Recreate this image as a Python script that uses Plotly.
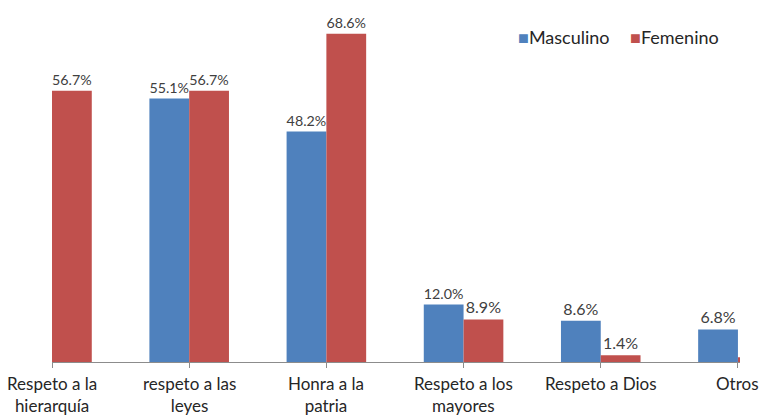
import plotly.graph_objects as go

categories = ["Respeto a la<br>hierarquía", "respeto a las<br>leyes", "Honra a la<br>patria",
              "Respeto a los<br>mayores", "Respeto a Dios", "Otros"]
masculino = [None, 55.1, 48.2, 12.0, 8.6, 6.8]
femenino = [56.7, 56.7, 68.6, 8.9, 1.4, 1.0]
series_names = ["Masculino", "Femenino"]
series_colors = ["#4F81BD", "#C0504D"]

x = list(range(len(categories)))

def labels(vals):
    return ["" if v is None else f"{v:.1f}%" for v in vals]

masc_labels = labels(masculino)
fem_labels = labels(femenino)
fem_labels[-1] = ""  # hidden beyond the plot edge in the original

fig = go.Figure()
for name, vals, txt, col in zip(series_names, [masculino, femenino], [masc_labels, fem_labels], series_colors):
    fig.add_trace(go.Bar(x=x, y=vals, name=name, marker_color=col, marker_line_width=0,
                         text=txt, textposition="outside", cliponaxis=True,
                         textfont=dict(size=16, color="#404040"), showlegend=False))

# legend drawn as annotations (marker square + text)
legend_x = [0.675, 0.837]
for name, col, lx in zip(series_names, series_colors, legend_x):
    fig.add_annotation(xref="paper", yref="paper", x=lx, y=0.918, xanchor="left", yanchor="middle",
                       showarrow=False,
                       text=f"<span style='color:{col}'>■</span>{name}",
                       font=dict(size=18, color="#262626"))

# category labels as annotations so edge labels are not dropped
for xi, cat in zip(x, categories):
    fig.add_annotation(xref="x", yref="paper", x=xi, y=0, xanchor="center", yanchor="top",
                       yshift=-9, showarrow=False, text=cat, align="center",
                       font=dict(size=17, color="#262626"))

fig.update_layout(
    width=761, height=420,
    margin=dict(l=52, r=21, t=8, b=58),
    paper_bgcolor="white", plot_bgcolor="white",
    barmode="group", bargap=0.42, bargroupgap=0,
    font=dict(family="Lato, Open Sans, sans-serif", size=16, color="#262626"),
    xaxis=dict(range=[0, 5.015], tickvals=x, showticklabels=False, showgrid=False,
               zeroline=False, showline=True, linecolor="#8C8C8C", linewidth=1,
               ticks="outside", ticklen=5, tickcolor="#8C8C8C"),
    yaxis=dict(range=[0, 74], visible=False, showgrid=False),
)

fig.write_html("out.html", config={"displayModeBar": False},
               post_script="document.body.style.margin='0';document.body.style.overflow='hidden';")
